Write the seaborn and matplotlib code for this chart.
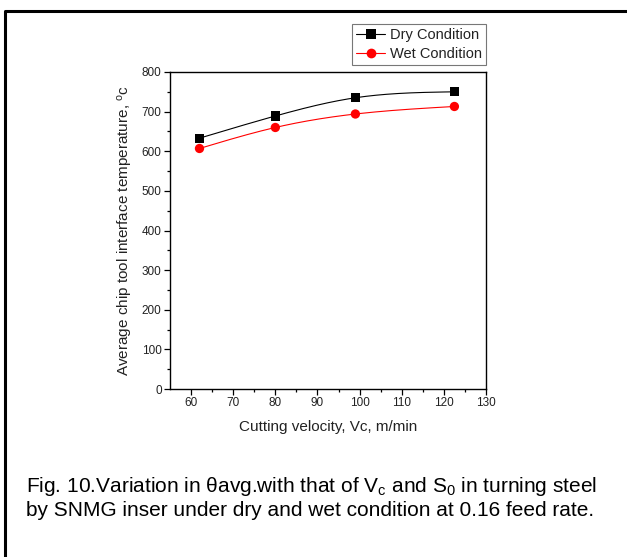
import numpy as np
import pandas as pd
import matplotlib
matplotlib.use("Agg")
import matplotlib.pyplot as plt
import seaborn as sns
from matplotlib.lines import Line2D

# ---- data ----
velocity = [62, 80, 99, 122.5]
dry_temp = [633, 689, 735, 750]
wet_temp = [607, 660, 694, 713]
series_names = ["Dry Condition", "Wet Condition"]
x_ticks = [60, 70, 80, 90, 100, 110, 120, 130]
y_ticks = [0, 100, 200, 300, 400, 500, 600, 700, 800]

sns.set_theme(style="white")
plt.rcParams['font.family'] = ['Liberation Sans', 'DejaVu Sans']
plt.rcParams['mathtext.fontset'] = 'custom'
plt.rcParams['mathtext.rm'] = 'Liberation Sans'
plt.rcParams['mathtext.it'] = 'Liberation Sans'

fam = ['Liberation Sans', 'DejaVu Sans']


def natural_spline(x, y, n=200):
    x = np.asarray(x, float); y = np.asarray(y, float)
    k = len(x); h = np.diff(x)
    A = np.zeros((k, k)); b = np.zeros(k)
    A[0, 0] = 1; A[-1, -1] = 1
    for i in range(1, k - 1):
        A[i, i - 1] = h[i - 1]; A[i, i] = 2 * (h[i - 1] + h[i]); A[i, i + 1] = h[i]
        b[i] = 3 * ((y[i + 1] - y[i]) / h[i] - (y[i] - y[i - 1]) / h[i - 1])
    c = np.linalg.solve(A, b)
    xs = np.linspace(x[0], x[-1], n); ys = np.empty_like(xs)
    for j, xv in enumerate(xs):
        i = min(np.searchsorted(x, xv, side='right') - 1, k - 2)
        d = (c[i + 1] - c[i]) / (3 * h[i])
        bb = (y[i + 1] - y[i]) / h[i] - h[i] * (2 * c[i] + c[i + 1]) / 3
        t = xv - x[i]
        ys[j] = y[i] + bb * t + c[i] * t ** 2 + d * t ** 3
    return xs, ys


fig = plt.figure(figsize=(6.27, 5.57), dpi=100)
ax = fig.add_axes([170 / 627, 1 - 389 / 557, 316 / 627, 317 / 557])

df = pd.DataFrame({
    "v": velocity * 2,
    "T": dry_temp + wet_temp,
    "cond": [series_names[0]] * len(velocity) + [series_names[1]] * len(velocity),
})

colors = {series_names[0]: "black", series_names[1]: "red"}
markers = {series_names[0]: "s", series_names[1]: "o"}
for name, ys in zip(series_names, [dry_temp, wet_temp]):
    xs_s, ys_s = natural_spline(velocity, ys)
    sns.lineplot(x=xs_s, y=ys_s, ax=ax, color=colors[name], lw=0.8)
sns.scatterplot(data=df, x="v", y="T", hue="cond", style="cond",
                palette=colors, markers=markers, s=45, edgecolor=None,
                linewidth=0, ax=ax, legend=False, zorder=3)

ax.set_xlim(55, 130)
ax.set_ylim(0, 800)
ax.set_xticks(x_ticks)
ax.set_yticks(y_ticks)
ax.set_xticks(np.arange(65, 130, 10), minor=True)
ax.set_yticks(np.arange(50, 800, 100), minor=True)
ax.tick_params(which='major', direction='out', length=4, width=0.9, color='black',
               bottom=True, left=True, pad=2)
ax.tick_params(which='minor', direction='out', length=2.5, width=0.9, color='black',
               bottom=True, left=True)
for lab in ax.get_xticklabels() + ax.get_yticklabels():
    lab.set_family(fam)
    lab.set_fontsize(8.5)
    lab.set_color('#222222')
for s in ax.spines.values():
    s.set_color('black'); s.set_linewidth(1.0)

ax.set_xlabel("Cutting velocity, Vc, m/min", family=fam, fontsize=11, color='#222222', labelpad=8)
ax.set_ylabel("Average chip tool interface temperature, $^{\\rm o}$c", family=fam,
              fontsize=11, color='#222222', labelpad=5)

handles = [Line2D([], [], color=colors[n], marker=markers[n], lw=0.8, markersize=7,
                  markeredgewidth=0) for n in series_names]
leg = fig.legend(handles, series_names, loc='upper right',
                 bbox_to_anchor=(486 / 627, 1 - 24 / 557), frameon=True, fancybox=False,
                 prop={'family': fam, 'size': 10.5}, handlelength=2.0, handletextpad=0.3,
                 borderpad=0.3, labelspacing=0.3, borderaxespad=0)
leg.get_frame().set_edgecolor('#555555')
leg.get_frame().set_linewidth(0.8)
for t in leg.get_texts():
    t.set_color('#222222')

# outer frame of the figure panel
fig.add_artist(Line2D([5 / 627, 5 / 627, 1.0], [0.0, 1 - 11 / 557, 1 - 11 / 557],
                      transform=fig.transFigure, color='black', lw=2.2))

cap_kw = dict(fontsize=15, color='black', family='Liberation Sans', va='center', ha='left')
fig.text(26 / 627, 1 - 487 / 557,
         "Fig. 10.Variation in θavg.with that of V$_{\\rm c}$ and S$_{\\rm 0}$ in turning steel",
         **cap_kw)
fig.text(26 / 627, 1 - 510 / 557,
         "by SNMG inser under dry and wet condition at 0.16 feed rate.", **cap_kw)

fig.savefig("out.png", dpi=100)
